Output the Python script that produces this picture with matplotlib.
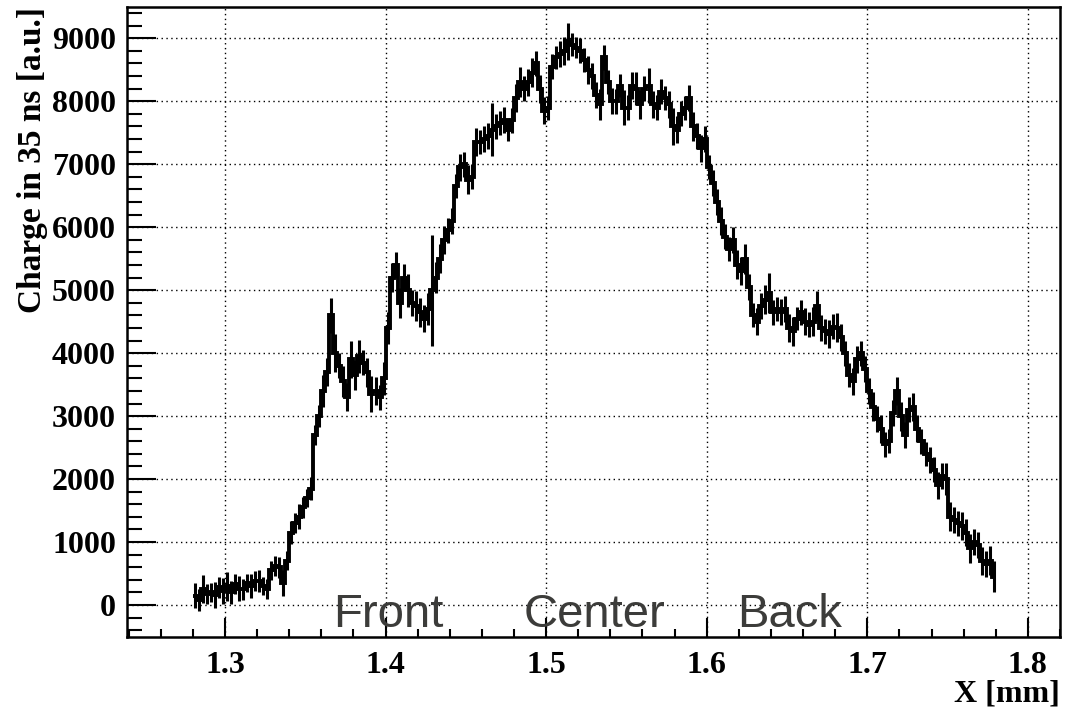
import numpy as np
import matplotlib
matplotlib.use("Agg")
import matplotlib.pyplot as plt
from matplotlib.ticker import MultipleLocator

# Charge profile across the sample, binned in X (0.0025 mm bins from 1.28 to 1.78 mm)
x_first_edge = 1.28
bin_width = 0.0025
charge = [
    150, 80, 250, 180,     200, 160, 280, 220,     300, 200, 330, 260,
    250, 350, 300, 380,    380, 300, 260, 550,     620, 600, 350, 700,
    1150, 1300, 1400, 1550, 1700, 1850, 2700, 3000, 3400, 3700, 4600, 4000,
    3800, 3550, 3300, 3900, 3650, 3950, 3850, 3700, 3350, 3400, 3300, 3600,
    4400, 5200, 5400, 4800, 5200, 5000, 4800, 4750, 4650, 4550, 4700, 5000,
    5200, 5500, 5800, 5950, 6100, 6650, 6950, 7000, 6750, 6800, 7350, 7350,
    7400, 7450, 7550, 7600, 7650, 7700, 7550, 7700, 8050, 8300, 8200, 8300,
    8450, 8600, 8200, 7850, 7900, 8550, 8700, 8750, 8800, 8950, 8900, 8850,
    8800, 8650, 8500, 8400, 8100, 7950, 8700, 8300, 8000, 8000, 8250, 7900,
    7900, 8250, 8200, 7950, 8200, 8250, 7950, 7900, 8150, 8050, 7950, 7600,
    7550, 7800, 7900, 8050, 7600, 7450, 7250, 7400, 6950, 6700, 6400, 6100,
    5850, 5650, 5800, 5400, 5300, 5500, 5050, 4600, 4500, 4750, 4850, 4950,
    4650, 4700, 4650, 4700, 4400, 4350, 4550, 4650, 4500, 4450, 4500, 4750,
    4400, 4350, 4300, 4420, 4400, 4250, 4000, 3650, 3550, 3900, 4000, 3750,
    3400, 3150, 2950, 2800, 2550, 2600, 3050, 3400, 3000, 2700, 3100, 3150,
    2800, 2600, 2400, 2300, 2150, 1900, 2050, 2000, 1400, 1350, 1300, 1250,
    1150, 900, 1000, 950, 700, 650, 700, 450,
]
charge_err = [
    200, 180, 220, 160,    150, 200, 170, 210,     230, 180, 160, 200,
    170, 150, 190, 160,    180, 140, 160, 150,     160, 170, 200, 150,
    180, 160, 200, 170,    150, 190, 160, 180,     260, 220, 280, 300,
    200, 250, 220, 300,    240, 260, 200, 230,     280, 220, 200, 260,
    250, 230, 200, 240,    220, 260, 210, 240,     230, 220, 250, 880,
    240, 230, 220, 200,    210, 190, 220, 200,     230, 200, 220, 190,
    200, 210, 420, 200,    190, 210, 180, 200,     220, 240, 200, 210,
    230, 200, 220, 210,    190, 200, 180, 200,     220, 300, 180, 170,
    200, 190, 220, 200,    210, 240, 200, 190,     210, 200, 190, 280,
    200, 210, 260, 230,    200, 280, 220, 200,     200, 190, 210, 300,
    220, 200, 190, 210,    230, 210, 220, 200,     190, 210, 200, 220,
    200, 190, 210, 230,    220, 240, 200, 190,     210, 200, 230, 320,
    200, 190, 210, 200,    220, 230, 190, 200,     210, 200, 230, 240,
    210, 200, 220, 200,    230, 210, 200, 190,     210, 220, 200, 210,
    200, 230, 210, 220,    200, 190, 210, 220,     230, 210, 200, 220,
    210, 200, 190, 210,    200, 220, 210, 260,     230, 210, 200, 220,
    210, 230, 200, 210,    220, 200, 230, 250,
]
x_ticks = [1.3, 1.4, 1.5, 1.6, 1.7, 1.8]
y_ticks = [0, 1000, 2000, 3000, 4000, 5000, 6000, 7000, 8000, 9000]
region_labels = ["Front", "Center", "Back"]
region_label_x = [1.3672, 1.4862, 1.6188]

edges = x_first_edge + bin_width * np.arange(len(charge) + 1)
centers = 0.5 * (edges[:-1] + edges[1:])

serif = ["Liberation Serif", "DejaVu Serif"]

fig = plt.figure(figsize=(10.77, 7.12), dpi=100)
ax = fig.add_axes([127 / 1077, 1 - 637 / 712, (1060 - 127) / 1077, (637 - 7) / 712])

ax.stairs(charge, edges, color="black", linewidth=2.8, baseline=None)
ax.errorbar(centers, charge, yerr=charge_err, fmt="none", ecolor="black",
            elinewidth=2.2, capsize=0)

ax.set_xlim(1.239, 1.82)
ax.set_ylim(-508, 9497)

ax.set_xticks(x_ticks)
ax.set_yticks(y_ticks)
ax.set_xticklabels([f"{v:.1f}" for v in x_ticks])
ax.set_yticklabels([str(v) for v in y_ticks])
ax.xaxis.set_minor_locator(MultipleLocator(0.02))
ax.yaxis.set_minor_locator(MultipleLocator(200))

ax.tick_params(axis="both", which="both", direction="in", top=False, right=False,
               width=1.5, colors="black")
ax.tick_params(axis="y", which="major", length=21, pad=8)
ax.tick_params(axis="y", which="minor", length=10.5)
ax.tick_params(axis="x", which="major", length=13.5, pad=10)
ax.tick_params(axis="x", which="minor", length=6)

for lab in ax.get_xticklabels() + ax.get_yticklabels():
    lab.set_fontfamily(serif)
    lab.set_fontweight("bold")
    lab.set_fontsize(23)

ax.grid(True, which="major", color="black", linestyle=(0, (1, 2.5)), linewidth=1.0)
ax.set_axisbelow(True)

for sp in ax.spines.values():
    sp.set_linewidth(1.8)

ax.set_ylabel("Charge in 35 ns [a.u.]", fontfamily=serif, fontweight="bold",
              fontsize=24, loc="top")
ax.yaxis.set_label_coords(-0.085, 1.0)
ax.set_xlabel("X [mm]", fontfamily=serif, fontweight="bold", fontsize=23, loc="right")
ax.xaxis.set_label_coords(1.0, -0.068)

for name, xpos in zip(region_labels, region_label_x):
    ax.text(xpos, -350, name, fontfamily=["Liberation Sans", "DejaVu Sans"],
            fontsize=34, color="#3c3c3a", ha="left", va="baseline", zorder=5)

fig.savefig("out.png", dpi=100)
